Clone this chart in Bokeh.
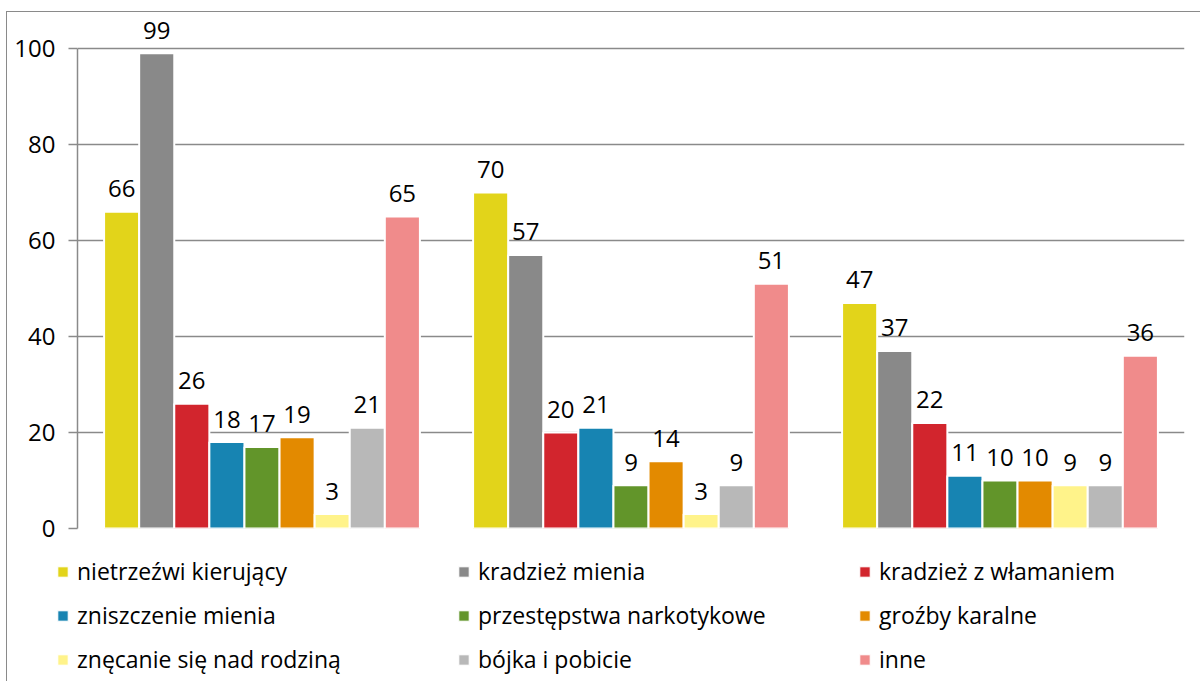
from bokeh.plotting import figure
from bokeh.models import ColumnDataSource, Range1d, FixedTicker, Legend, LegendItem
from bokeh.transform import dodge
from bokeh.core.properties import value
from bokeh.embed import file_html
from bokeh.resources import INLINE

groups = [1, 2, 3]
series = ["nietrzeźwi kierujący", "kradzież mienia", "kradzież z włamaniem",
          "zniszczenie mienia", "przestępstwa narkotykowe", "groźby karalne",
          "znęcanie się nad rodziną", "bójka i pobicie", "inne"]
colors = ["#E2D41A", "#898989", "#D2252D", "#1784B2", "#62952A",
          "#E38A00", "#FFF38A", "#B8B8B8", "#F08B8B"]
nietrzezwi = [66, 70, 47]
kradziez_mienia = [99, 57, 37]
kradziez_wlamanie = [26, 20, 22]
zniszczenie = [18, 21, 11]
narkotykowe = [17, 9, 10]
grozby = [19, 14, 10]
znecanie = [3, 3, 9]
bojka = [21, 9, 9]
inne = [65, 51, 36]
values = [nietrzezwi, kradziez_mienia, kradziez_wlamanie, zniszczenie,
          narkotykowe, grozby, znecanie, bojka, inne]
y_ticks = [0, 20, 40, 60, 80, 100]

FONT = "Open Sans"
GRID = "#8a8a8a"

# ---- chart figure ----
p = figure(width=1194, height=532, output_backend="svg", toolbar_location=None,
           x_range=Range1d(0.5, 3.5), y_range=Range1d(0, 107.5),
           x_axis_location=None,
           min_border_left=70, min_border_right=17, min_border_top=0,
           min_border_bottom=16)
p.styles = {"border-top": "1px solid #8a8a8a", "border-left": "1px solid #8a8a8a",
            "margin-top": "11px", "margin-left": "6px"}
p.outline_line_color = None
p.background_fill_color = "white"
p.border_fill_color = "white"

pitch = 0.0951
for i, (name, col, vals) in enumerate(zip(series, colors, values)):
    src = ColumnDataSource(dict(x=groups, y=vals, lab=[str(v) for v in vals]))
    off = (i - 4) * pitch
    p.vbar(x=dodge("x", off, range=p.x_range), top="y", bottom=0, width=pitch,
           source=src, fill_color=col, line_color="white", line_width=2)
    p.text(x=dodge("x", off, range=p.x_range), y="y", text="lab", source=src,
           text_align="center", text_baseline="alphabetic", y_offset=-23,
           text_font=value(FONT), text_font_size="24px", text_color="#000000")

p.xgrid.grid_line_color = None
p.ygrid.ticker = FixedTicker(ticks=y_ticks)
p.ygrid.grid_line_color = GRID
p.ygrid.grid_line_width = 1.5

ya = p.yaxis[0]
ya.ticker = FixedTicker(ticks=y_ticks)
ya.bounds = (0, 100)
ya.axis_line_color = GRID
ya.axis_line_width = 1.5
ya.major_tick_line_color = GRID
ya.major_tick_line_width = 1.5
ya.major_tick_out = 9
ya.major_tick_in = 0
ya.minor_tick_line_color = None
ya.major_label_standoff = 13
ya.major_label_text_font = FONT
ya.major_label_text_font_size = "24px"
ya.major_label_text_color = "#000000"

# ---- legend figure ----
p2 = figure(width=1194, height=138, output_backend="svg", toolbar_location=None,
            x_range=Range1d(0, 1), y_range=Range1d(0, 1),
            x_axis_location=None, y_axis_location=None, min_border=0)
p2.styles = {"border-left": "1px solid #8a8a8a", "margin-left": "6px"}
p2.outline_line_color = None
p2.grid.visible = False
p2.border_fill_color = "white"
items = []
for name, col in zip(series, colors):
    # zero-height placeholder renderer: only supplies the legend swatch style
    r = p2.vbar(x=[0], top=[0], bottom=[0], width=0, fill_color=col,
                line_color="white", line_width=1)
    items.append(LegendItem(label=name, renderers=[r]))

legend = Legend(items=items, location=(49, 6), orientation="horizontal", ncols=3,
                padding=0, margin=0, spacing=12, glyph_width=13, glyph_height=13,
                label_height=25, label_width=368, label_standoff=8,
                label_text_font=FONT, label_text_font_size="23px",
                label_text_color="#000000", border_line_color=None,
                background_fill_alpha=0)
p2.add_layout(legend, "center")

open("out.html", "w").write(file_html([p, p2], INLINE))
